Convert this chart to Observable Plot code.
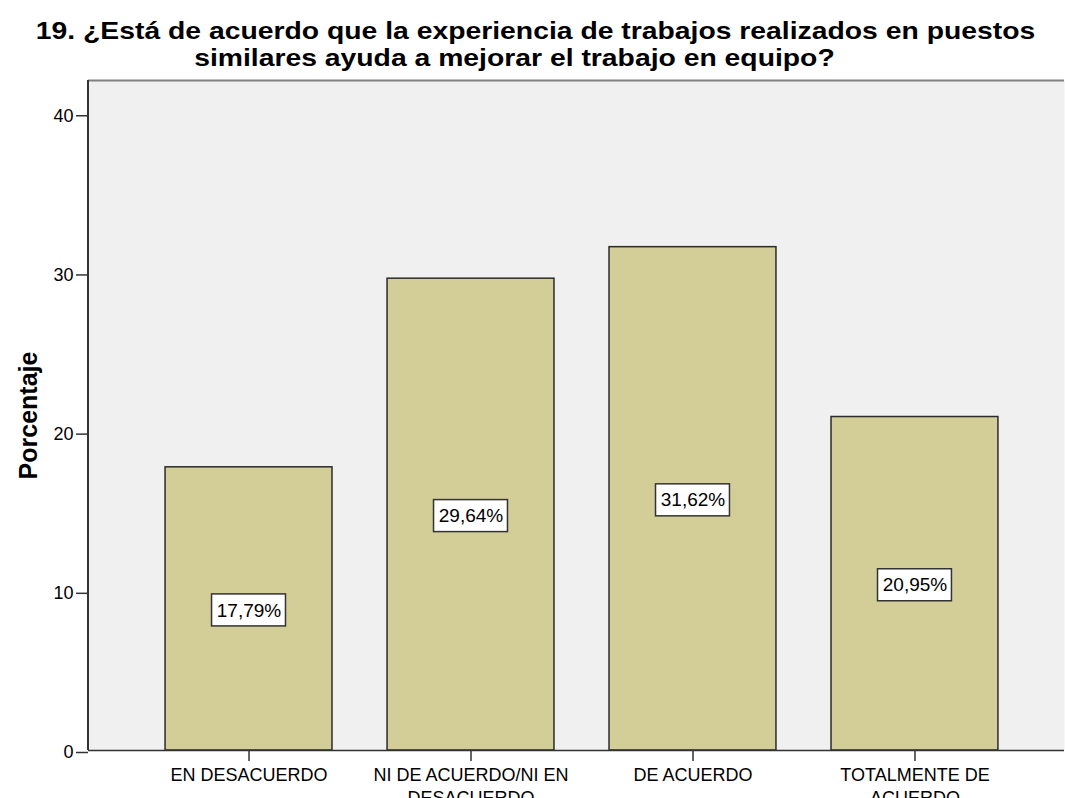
<!DOCTYPE html>
<html>
<head>
<meta charset="utf-8">
<script src="https://cdn.jsdelivr.net/npm/d3@7"></script>
<script src="https://cdn.jsdelivr.net/npm/@observablehq/plot@0.6"></script>
<style>
  html, body { margin: 0; padding: 0; background: #ffffff; }
  body { width: 1065px; height: 798px; overflow: hidden; font-family: "Liberation Sans", Arial, sans-serif; }
  #title { height: 70px; box-sizing: border-box; padding-top: 17px; font-weight: bold; font-size: 24px; line-height: 27px; color: #000; }
  #title div { text-align: center; white-space: nowrap; }
  #title span { display: inline-block; transform-origin: center; }
  #l1 span { transform: translateX(3px) scaleX(1.18); }
  #l2 span { transform: translateX(-18px) scaleX(1.18); }
  #chart svg { display: block; }
</style>
</head>
<body>
<div id="title">
  <div id="l1"><span>19. ¿Está de acuerdo que la experiencia de trabajos realizados en puestos</span></div>
  <div id="l2"><span>similares ayuda a mejorar el trabajo en equipo?</span></div>
</div>
<div id="chart"></div>
<script>
const categories = ["EN DESACUERDO", "NI DE ACUERDO/NI EN DESACUERDO", "DE ACUERDO", "TOTALMENTE DE ACUERDO"];
const tickLabels = ["EN DESACUERDO", "NI DE ACUERDO/NI EN\nDESACUERDO", "DE ACUERDO", "TOTALMENTE DE\nACUERDO"];
const percentages = [17.79, 29.64, 31.62, 20.95];
const valueLabels = ["17,79%", "29,64%", "31,62%", "20,95%"];
const yTicks = [0, 10, 20, 30, 40];
const yMax = 42.09;
const yLabel = "Porcentaje";

const data = categories.map((c, i) => ({cat: c, pct: percentages[i], label: valueLabels[i]}));
const tickMap = new Map(categories.map((c, i) => [c, tickLabels[i]]));

const marginLeft = 88;

const chart = Plot.plot({
  width: 1065,
  height: 728,
  marginLeft,
  marginRight: 1,
  marginTop: 10,
  marginBottom: 48,
  style: {fontFamily: "Liberation Sans, Arial, sans-serif", color: "#000", background: "transparent"},
  x: {domain: categories, range: [110, 1053], padding: 0.248, round: false},
  y: {domain: [0, yMax]},
  marks: [
    Plot.frame({fill: "#f0f0f0", stroke: "none"}),
    Plot.barY(data, {x: "cat", y: "pct", fill: "#d3ce97", stroke: "#2b2b2b", strokeWidth: 1.5}),
    Plot.barY(data, {x: "cat", y1: d => d.pct / 2, y2: d => d.pct / 2, insetLeft: 46.5, insetRight: 46.5, insetTop: -16, insetBottom: -16, dy: 1.5, fill: "#ffffff", stroke: "#333", strokeWidth: 1.5}),
    Plot.text(data, {x: "cat", y: d => d.pct / 2, text: "label", dy: 1.5, fontSize: 19, fill: "#000"}),
    Plot.ruleY([yMax], {stroke: "#808080", strokeWidth: 2}),
    Plot.ruleY([0], {stroke: "#333", strokeWidth: 1.5}),
    Plot.axisY({ticks: yTicks, tickSize: 12, tickPadding: 3, fontSize: 18, dy: 2, label: null, stroke: "#333", strokeWidth: 1.5}),
    Plot.axisX({tickSize: 11, tickPadding: 4, fontSize: 18, lineHeight: 1.25, label: null, tickFormat: d => tickMap.get(d), stroke: "#333", strokeWidth: 1.5}),
    Plot.text([yLabel], {frameAnchor: "left", textAnchor: "middle", rotate: -90, dx: -60, fontSize: 25, fontWeight: "bold", fill: "#000"})
  ]
});

// left axis line along the y scale
const ys = chart.scale("y");
d3.select(chart).append("line")
  .attr("x1", marginLeft).attr("x2", marginLeft)
  .attr("y1", ys.apply(0)).attr("y2", ys.apply(yMax))
  .attr("stroke", "#333").attr("stroke-width", 2);

document.getElementById("chart").appendChild(chart);
</script>
</body>
</html>
